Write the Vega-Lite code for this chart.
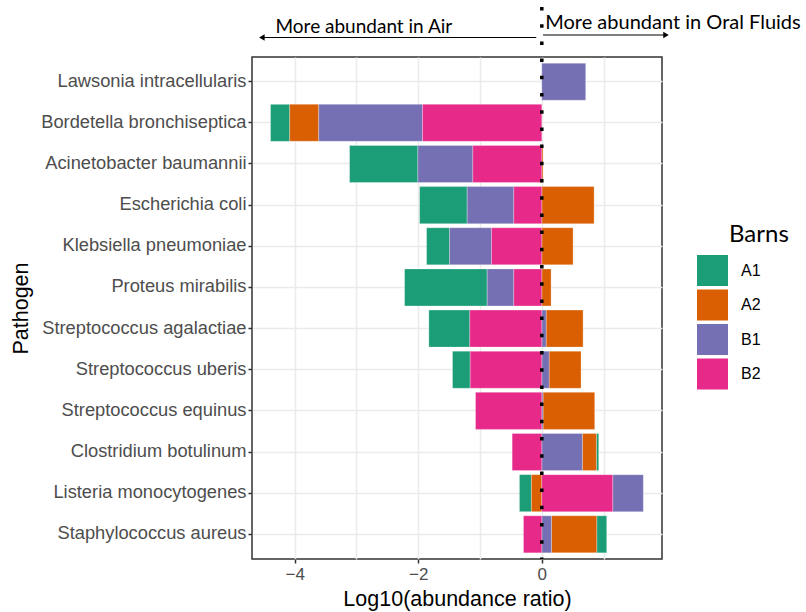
{
  "$schema": "https://vega.github.io/schema/vega-lite/v6.json",
  "width": 410,
  "height": 502,
  "autosize": {"type": "none"},
  "padding": {"left": 252, "top": 57, "right": 144, "bottom": 53},
  "background": "white",
  "config": {
    "view": {"stroke": "#333333", "strokeWidth": 1.5},
    "font": "Liberation Sans"
  },
  "layer": [
    {
      "data": {
        "values": [
          {"Pathogen": "Lawsonia intracellularis", "Barn": "B1", "value": 0.71},
          {"Pathogen": "Bordetella bronchiseptica", "Barn": "A1", "value": -0.31},
          {"Pathogen": "Bordetella bronchiseptica", "Barn": "A2", "value": -0.47},
          {"Pathogen": "Bordetella bronchiseptica", "Barn": "B1", "value": -1.68},
          {"Pathogen": "Bordetella bronchiseptica", "Barn": "B2", "value": -1.93},
          {"Pathogen": "Acinetobacter baumannii", "Barn": "A1", "value": -1.105},
          {"Pathogen": "Acinetobacter baumannii", "Barn": "A2", "value": 0.02},
          {"Pathogen": "Acinetobacter baumannii", "Barn": "B1", "value": -0.89},
          {"Pathogen": "Acinetobacter baumannii", "Barn": "B2", "value": -1.116},
          {"Pathogen": "Escherichia coli", "Barn": "A1", "value": -0.77},
          {"Pathogen": "Escherichia coli", "Barn": "A2", "value": 0.846},
          {"Pathogen": "Escherichia coli", "Barn": "B1", "value": -0.755},
          {"Pathogen": "Escherichia coli", "Barn": "B2", "value": -0.453},
          {"Pathogen": "Klebsiella pneumoniae", "Barn": "A1", "value": -0.372},
          {"Pathogen": "Klebsiella pneumoniae", "Barn": "A2", "value": 0.506},
          {"Pathogen": "Klebsiella pneumoniae", "Barn": "B1", "value": -0.679},
          {"Pathogen": "Klebsiella pneumoniae", "Barn": "B2", "value": -0.814},
          {"Pathogen": "Proteus mirabilis", "Barn": "A1", "value": -1.337},
          {"Pathogen": "Proteus mirabilis", "Barn": "A2", "value": 0.15},
          {"Pathogen": "Proteus mirabilis", "Barn": "B1", "value": -0.431},
          {"Pathogen": "Proteus mirabilis", "Barn": "B2", "value": -0.453},
          {"Pathogen": "Streptococcus agalactiae", "Barn": "A1", "value": -0.663},
          {"Pathogen": "Streptococcus agalactiae", "Barn": "A2", "value": 0.598},
          {"Pathogen": "Streptococcus agalactiae", "Barn": "B1", "value": 0.07},
          {"Pathogen": "Streptococcus agalactiae", "Barn": "B2", "value": -1.165},
          {"Pathogen": "Streptococcus uberis", "Barn": "A1", "value": -0.286},
          {"Pathogen": "Streptococcus uberis", "Barn": "A2", "value": 0.517},
          {"Pathogen": "Streptococcus uberis", "Barn": "B1", "value": 0.118},
          {"Pathogen": "Streptococcus uberis", "Barn": "B2", "value": -1.159},
          {"Pathogen": "Streptococcus equinus", "Barn": "A2", "value": 0.836},
          {"Pathogen": "Streptococcus equinus", "Barn": "B1", "value": 0.02},
          {"Pathogen": "Streptococcus equinus", "Barn": "B2", "value": -1.073},
          {"Pathogen": "Clostridium botulinum", "Barn": "A1", "value": 0.038},
          {"Pathogen": "Clostridium botulinum", "Barn": "A2", "value": 0.226},
          {"Pathogen": "Clostridium botulinum", "Barn": "B1", "value": 0.657},
          {"Pathogen": "Clostridium botulinum", "Barn": "B2", "value": -0.48},
          {"Pathogen": "Listeria monocytogenes", "Barn": "A1", "value": -0.194},
          {"Pathogen": "Listeria monocytogenes", "Barn": "A2", "value": -0.168},
          {"Pathogen": "Listeria monocytogenes", "Barn": "B1", "value": 0.496},
          {"Pathogen": "Listeria monocytogenes", "Barn": "B2", "value": 1.147},
          {"Pathogen": "Staphylococcus aureus", "Barn": "A1", "value": 0.161},
          {"Pathogen": "Staphylococcus aureus", "Barn": "A2", "value": 0.733},
          {"Pathogen": "Staphylococcus aureus", "Barn": "B1", "value": 0.156},
          {"Pathogen": "Staphylococcus aureus", "Barn": "B2", "value": -0.297}
        ]
      },
      "mark": {"type": "bar", "stroke": "white", "strokeWidth": 0.4, "strokeOpacity": 0.7},
      "encoding": {
        "y": {
          "field": "Pathogen",
          "type": "nominal",
          "sort": ["Lawsonia intracellularis", "Bordetella bronchiseptica", "Acinetobacter baumannii", "Escherichia coli", "Klebsiella pneumoniae", "Proteus mirabilis", "Streptococcus agalactiae", "Streptococcus uberis", "Streptococcus equinus", "Clostridium botulinum", "Listeria monocytogenes", "Staphylococcus aureus"],
          "scale": {"paddingInner": 0.1, "paddingOuter": 0.15},
          "axis": {
            "title": "Pathogen",
            "titleFontSize": 21.5,
            "titleFontWeight": "normal",
            "titleColor": "black",
            "titlePadding": 20,
            "labelFontSize": 18.3,
            "labelColor": "#4D4D4D",
            "labelPadding": 2,
            "labelLimit": 400,
            "tickColor": "#333333",
            "tickSize": 4,
            "tickWidth": 1.5,
            "domain": false,
            "grid": true,
            "gridColor": "#EBEBEB",
            "gridWidth": 1.5
          }
        },
        "x": {
          "field": "value",
          "type": "quantitative",
          "stack": "zero",
          "scale": {"domain": [-4.69, 1.945], "nice": false, "zero": false},
          "axis": {
            "title": "Log10(abundance ratio)",
            "titleFontSize": 21.5,
            "titleFontWeight": "normal",
            "titleColor": "black",
            "titlePadding": 6,
            "values": [-4, -3, -2, -1, 0, 1],
            "format": "d",
            "labelExpr": "datum.value % 2 === 0 ? datum.label : ''",
            "labelFontSize": 17,
            "labelColor": "#4D4D4D",
            "labelPadding": 3,
            "tickColor": "#333333",
            "tickSize": 4,
            "tickWidth": 1.5,
            "tickOpacity": {"condition": {"test": "datum.value % 2 === 0", "value": 1}, "value": 0},
            "domain": false,
            "grid": true,
            "gridColor": "#EBEBEB",
            "gridWidth": 1.5
          }
        },
        "color": {
          "field": "Barn",
          "type": "nominal",
          "scale": {"domain": ["A1", "A2", "B1", "B2"], "range": ["#1B9E77", "#D95F02", "#7570B3", "#E7298A"]},
          "legend": {
            "title": "Barns",
            "orient": "none",
            "legendX": 445,
            "legendY": 166,
            "titleFont": "Lato",
            "titleFontSize": 24,
            "titleFontWeight": "normal",
            "titleColor": "black",
            "titlePadding": 8,
            "titleAnchor": "middle",
            "titleAlign": "left",
            "labelFont": "Liberation Sans",
            "labelFontSize": 16,
            "labelColor": "black",
            "labelOffset": 13,
            "symbolType": "square",
            "symbolSize": 961,
            "symbolStrokeWidth": 0,
            "symbolOpacity": 1,
            "rowPadding": 3.5
          }
        },
        "order": {"field": "Barn", "sort": "descending"}
      }
    },
    {
      "data": {"values": [{}]},
      "mark": {"type": "rule", "color": "black", "strokeWidth": 3.5, "strokeDash": [3.5, 13.7], "strokeCap": "butt"},
      "encoding": {
        "x": {"datum": 0, "type": "quantitative"},
        "y": {"value": -50},
        "y2": {"value": 502}
      }
    },
    {
      "data": {"values": [{}]},
      "mark": {"type": "rule", "color": "black", "strokeWidth": 1.2},
      "encoding": {
        "x": {"datum": -0.09, "type": "quantitative"},
        "x2": {"datum": -4.5},
        "y": {"value": -19.5}
      }
    },
    {
      "data": {"values": [{}]},
      "mark": {"type": "point", "shape": "triangle-left", "filled": true, "color": "black", "size": 40, "opacity": 1},
      "encoding": {
        "x": {"datum": -4.53, "type": "quantitative"},
        "y": {"value": -19.5}
      }
    },
    {
      "data": {"values": [{}]},
      "mark": {"type": "rule", "color": "black", "strokeWidth": 1.2},
      "encoding": {
        "x": {"datum": 0.02, "type": "quantitative"},
        "x2": {"datum": 1.98},
        "y": {"value": -22}
      }
    },
    {
      "data": {"values": [{}]},
      "mark": {"type": "point", "shape": "triangle-right", "filled": true, "color": "black", "size": 40, "opacity": 1},
      "encoding": {
        "x": {"datum": 2.01, "type": "quantitative"},
        "y": {"value": -22}
      }
    },
    {
      "data": {"values": [{"note": "More abundant in Air"}]},
      "mark": {"type": "text", "font": "Lato", "fontSize": 19, "align": "left", "baseline": "alphabetic", "color": "black"},
      "encoding": {
        "x": {"datum": -4.31, "type": "quantitative"},
        "y": {"value": -24},
        "text": {"field": "note"}
      }
    },
    {
      "data": {"values": [{"note": "More abundant in Oral Fluids"}]},
      "mark": {"type": "text", "font": "Lato", "fontSize": 20, "align": "left", "baseline": "alphabetic", "color": "black"},
      "encoding": {
        "x": {"datum": 0.055, "type": "quantitative"},
        "y": {"value": -28},
        "text": {"field": "note"}
      }
    }
  ]
}
